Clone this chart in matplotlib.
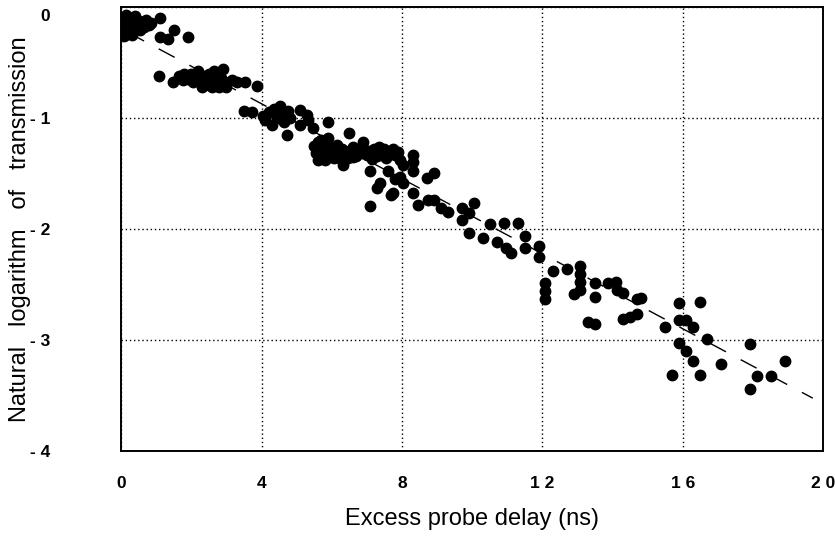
import numpy as np
import matplotlib.pyplot as plt
from matplotlib.transforms import ScaledTranslation

# delay (ns) and ln(transmission), grouped left to right
x0 = [0.05, 0.05, 0.08, 0.1, 0.15, 0.2, 0.25, 0.3, 0.35, 0.4, 0.45, 0.5, 0.55, 0.6,
      0.65, 0.7, 0.8, 0.85, 0.3, 0.15, 0.1, 0.5, 1.11, 1.5, 1.9, 1.1, 1.33]
y0 = [-0.15, -0.22, -0.26, -0.12, -0.18, -0.22, -0.1, -0.15, -0.2, -0.08, -0.17, -0.13,
      -0.21, -0.15, -0.18, -0.12, -0.16, -0.14, -0.25, -0.07, -0.2, -0.19, -0.10,
      -0.21, -0.27, -0.27, -0.29]

x1 = [1.08, 1.48, 1.65, 1.8, 1.9, 2.0, 2.1, 2.2, 2.25, 2.35, 2.4, 2.5, 2.55, 2.6, 2.65,
      2.7, 2.75, 2.8, 2.85, 2.9, 2.95, 3.0, 2.3, 2.05, 1.75, 3.3, 3.53, 3.87, 3.15]
y1 = [-0.62, -0.68, -0.62, -0.6, -0.65, -0.6, -0.63, -0.58, -0.66, -0.62, -0.7, -0.6,
      -0.65, -0.72, -0.58, -0.68, -0.62, -0.72, -0.64, -0.56, -0.68, -0.72, -0.72,
      -0.68, -0.66, -0.68, -0.68, -0.71, -0.66]

x2 = [3.5, 3.73, 4.05, 4.1, 4.2, 4.3, 4.35, 4.45, 4.53, 4.6, 4.65, 4.75, 4.8, 4.73,
      5.1, 5.3, 5.1, 5.33, 5.47, 5.9, 6.5, 5.9, 6.9]
y2 = [-0.94, -0.95, -0.98, -1.02, -0.95, -1.06, -0.92, -1.0, -0.89, -0.97, -1.04, -0.94,
      -1.0, -1.15, -0.93, -0.97, -1.06, -1.02, -1.09, -1.04, -1.14, -1.18, -1.22]

x3 = [5.5, 5.55, 5.6, 5.6, 5.65, 5.7, 5.75, 5.8, 5.85, 5.9, 5.95, 6.0, 6.1, 6.2, 6.25,
      6.3, 6.4, 6.5, 6.6, 6.7, 6.75, 6.8, 6.9, 7.0, 7.1, 7.2, 7.3, 7.4, 7.5, 7.6, 7.7,
      7.8, 7.9, 6.05, 6.15, 6.45, 6.6, 6.85, 7.15, 7.35, 7.55, 7.75, 5.7, 5.8, 6.33]
y3 = [-1.25, -1.32, -1.38, -1.22, -1.3, -1.35, -1.27, -1.38, -1.3, -1.25, -1.35, -1.3,
      -1.27, -1.33, -1.37, -1.28, -1.32, -1.3, -1.26, -1.34, -1.29, -1.3, -1.27, -1.33,
      -1.3, -1.28, -1.34, -1.3, -1.28, -1.32, -1.3, -1.33, -1.31, -1.36, -1.24, -1.36,
      -1.35, -1.32, -1.37, -1.26, -1.36, -1.28, -1.2, -1.34, -1.42]

x4 = [7.1, 7.38, 7.3, 7.7, 7.1, 7.95, 8.03, 8.03, 8.3, 8.3, 8.3, 8.3, 7.75, 7.8, 7.6,
      7.95, 8.7, 8.9, 8.46, 8.75, 8.9, 9.1, 9.3, 9.7, 10.05, 9.9, 9.7]
y4 = [-1.48, -1.59, -1.63, -1.69, -1.79, -1.53, -1.42, -1.59, -1.33, -1.4, -1.48, -1.68,
      -1.68, -1.55, -1.48, -1.38, -1.54, -1.5, -1.78, -1.74, -1.74, -1.81, -1.85, -1.81,
      -1.77, -1.86, -1.92]

x5 = [9.9, 10.3, 10.5, 10.9, 11.3, 10.7, 10.95, 11.5, 11.5, 11.9, 11.1, 11.9]
y5 = [-2.04, -2.08, -1.96, -1.95, -1.95, -2.12, -2.17, -2.06, -2.17, -2.15, -2.22, -2.25]

x6 = [12.3, 12.7, 12.08, 12.08, 12.08, 13.08, 13.08, 13.08, 13.08, 12.9, 13.5, 13.5,
      13.3, 13.5, 13.87, 14.1, 14.13, 14.3, 14.7, 14.8, 14.3, 14.5, 14.7, 15.5]
y6 = [-2.38, -2.36, -2.49, -2.56, -2.63, -2.33, -2.41, -2.48, -2.55, -2.59, -2.49, -2.61,
      -2.84, -2.86, -2.49, -2.48, -2.55, -2.58, -2.63, -2.62, -2.81, -2.79, -2.77, -2.88]

x7 = [15.9, 16.5, 15.9, 16.1, 16.3, 16.7, 15.9, 16.1, 16.3, 17.1, 15.7, 16.5, 17.9,
      18.9, 18.1, 18.5, 17.9]
y7 = [-2.67, -2.66, -2.82, -2.82, -2.88, -2.99, -3.03, -3.1, -3.19, -3.22, -3.32, -3.32,
      -3.04, -3.19, -3.33, -3.33, -3.44]

delay = x0 + x1 + x2 + x3 + x4 + x5 + x6 + x7
ln_t = y0 + y1 + y2 + y3 + y4 + y5 + y6 + y7

# straight-line fit drawn as a dashed line
fit_x = [0.2, 19.7]
fit_intercept = -0.196
fit_slope = -0.169

xticks = [0, 4, 8, 12, 16, 20]
xtick_labels = ["0", "4", "8", "1 2", "1 6", "2 0"]
yticks = [0, -1, -2, -3, -4]
ytick_labels = ["0", "- 1", "- 2", "- 3", "- 4"]

plt.rcParams['font.family'] = ['Liberation Sans', 'DejaVu Sans']

fig = plt.figure(figsize=(8.35, 5.38), dpi=100)
ax = fig.add_axes([0.145, 0.162, 0.841, 0.825])

fx = np.array(fit_x)
ax.plot(fx, fit_intercept + fit_slope * fx, color='black', lw=1.0,
        dashes=(13, 12), zorder=2)
ax.plot(delay, ln_t, 'o', color='black', ms=7.5, mec='black', zorder=3)

ax.set_xlim(0, 20)
ax.set_ylim(-4, 0)
ax.set_xticks(xticks)
ax.set_xticklabels(xtick_labels, fontsize=12.5, fontweight='bold')
ax.set_yticks(yticks)
ax.set_yticklabels(ytick_labels, fontsize=12.5, fontweight='bold')
ax.tick_params(length=0, pad=18, axis='x')
ax.tick_params(length=0, pad=51, axis='y')
# the top "0" sits a little below the top edge in the original
top = ax.get_yticklabels()[0]
top.set_transform(top.get_transform() + ScaledTranslation(0, -6 / 72, fig.dpi_scale_trans))

ax.grid(True, color='black', linestyle=(0, (1, 2)), linewidth=1.0)
for s in ax.spines.values():
    s.set_linewidth(1.4)

ax.set_xlabel("Excess probe delay (ns)", fontsize=17, labelpad=12)
ax.set_ylabel("Natural   logarithm   of   transmission", fontsize=17)
ax.yaxis.set_label_coords(-0.128, 0.5)

fig.savefig("out.png", dpi=100)
